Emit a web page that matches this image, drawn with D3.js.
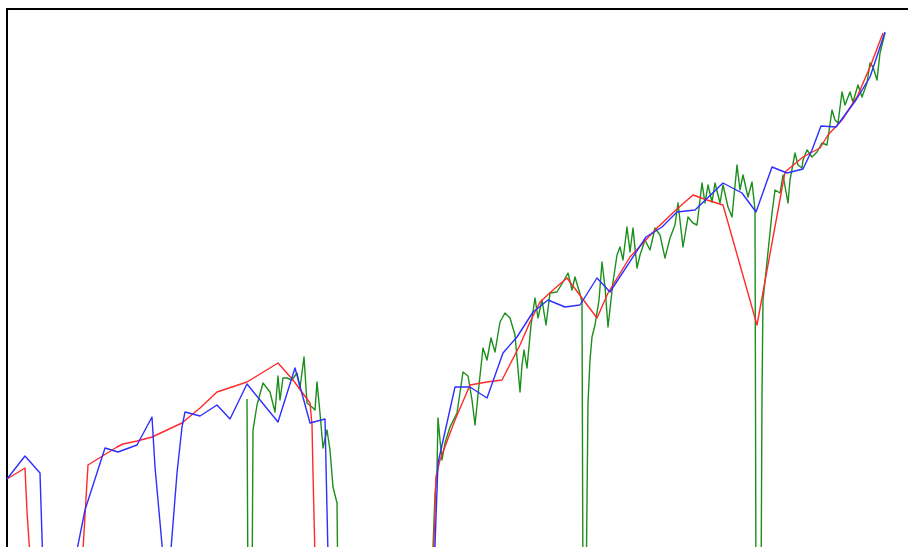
<!DOCTYPE html>
<html>
<head>
<meta charset="utf-8">
<script src="https://cdn.jsdelivr.net/npm/d3@7"></script>
<style>
  html, body { margin: 0; padding: 0; background: #fff; }
  svg { display: block; }
</style>
</head>
<body>
<svg id="chart" width="908" height="547"></svg>
<script>
// Series as [week, index level]; a level of 0 marks a missing reading.
const annualSeries = [
  [0,121],[18,132],[20,88],[26,0],[73,0],[81,135],[110,153],[116,156],[130,159],
  [145,163],[175,177],[193,192],[210,208],[240,218],[271,237],[286,220],[303,197],
  [305,175],[306,127],[309,0],[425,0],[429,123],[433,140],[448,180],[463,215],
  [480,218],[495,220],[513,255],[523,278],[533,298],[546,310],[560,322],[590,282],
  [601,307],[623,343],[650,372],[670,391],[686,405],[700,400],[716,395],[750,275],
  [778,428],[796,443],[813,452],[821,465],[835,480],[850,503],[863,533],[876,567]
];

const quarterlySeries = [
  [0,121],[18,144],[33,127],[37,0],[60,0],[78,90],[98,152],[111,148],[130,155],
  [145,183],[148,133],[160,0],[170,127],[175,173],[178,188],[193,184],[210,195],
  [223,181],[240,216],[271,178],[288,232],[303,177],[318,181],[322,0],[426,0],
  [431,137],[448,213],[463,213],[480,202],[496,247],[510,263],[526,288],[541,300],
  [558,293],[573,295],[590,322],[603,308],[639,363],[655,373],[670,388],[688,390],
  [716,417],[735,407],[749,388],[765,433],[780,427],[796,431],[805,450],[814,474],
  [829,473],[849,500],[863,523],[878,568]
];

const weeklySeries = [
  [240,201],[241,0],[245,0],[246,170],[250,195],[256,217],[263,208],[268,188],
  [271,224],[273,200],[276,222],[280,222],[285,220],[290,227],[293,212],[297,243],
  [300,197],[305,193],[308,190],[310,218],[313,187],[316,152],[320,170],[323,150],
  [326,113],[330,97],[331,0],[424,0],[428,105],[430,130],[431,182],[433,160],
  [435,140],[438,157],[443,173],[450,187],[456,228],[461,224],[465,200],[468,175],
  [472,215],[476,252],[480,240],[484,262],[488,248],[493,278],[498,287],[503,282],
  [508,265],[513,208],[515,235],[517,250],[520,232],[524,275],[528,302],[531,282],
  [535,300],[539,275],[543,307],[550,308],[556,318],[561,327],[565,310],[568,323],
  [573,306],[575,298],[576,0],[579,0],[581,197],[583,240],[585,263],[588,275],
  [592,300],[595,338],[598,313],[601,273],[606,318],[610,345],[613,353],[616,340],
  [620,373],[623,348],[626,372],[630,332],[633,345],[638,360],[643,350],[648,372],
  [653,365],[658,342],[663,362],[668,375],[671,397],[676,353],[681,383],[686,377],
  [690,375],[695,417],[698,397],[701,415],[705,398],[708,417],[713,397],[716,415],
  [721,393],[725,383],[730,435],[733,410],[736,425],[741,403],[745,418],[748,390],
  [749,0],[754,0],[755,205],[756,300],[760,338],[765,387],[768,410],[773,407],
  [776,425],[781,397],[783,420],[788,447],[791,435],[795,432],[796,440],[800,450],
  [805,443],[810,448],[815,457],[820,455],[825,490],[828,480],[831,477],[835,508],
  [838,495],[843,508],[846,498],[851,515],[855,503],[860,517],[863,537],[866,533],
  [870,520],[873,547],[878,567]
];

const seriesColors = ["#1b8f1b", "#ff2a2a", "#2e2eff"];

const svg = d3.select("#chart");

const x = d3.scaleLinear().domain([0, 900]).range([7, 907]);
const y = d3.scaleLinear().domain([0, 600]).range([600, 0]);

const line = d3.line()
  .x(d => x(d[0]))
  .y(d => y(d[1]));

// Plot frame (extends past the visible window on the right and bottom)
svg.append("rect")
  .attr("x", x(0))
  .attr("y", y(591))
  .attr("width", 1000)
  .attr("height", 1000)
  .attr("fill", "none")
  .attr("stroke", "#000")
  .attr("stroke-width", 2);

const lines = [
  { data: weeklySeries, color: seriesColors[0] },
  { data: annualSeries, color: seriesColors[1] },
  { data: quarterlySeries, color: seriesColors[2] }
];

svg.selectAll("path.series")
  .data(lines)
  .join("path")
  .attr("class", "series")
  .attr("d", d => line(d.data))
  .attr("fill", "none")
  .attr("stroke", d => d.color)
  .attr("stroke-width", 1.4)
  .attr("stroke-linejoin", "round");
</script>
</body>
</html>
